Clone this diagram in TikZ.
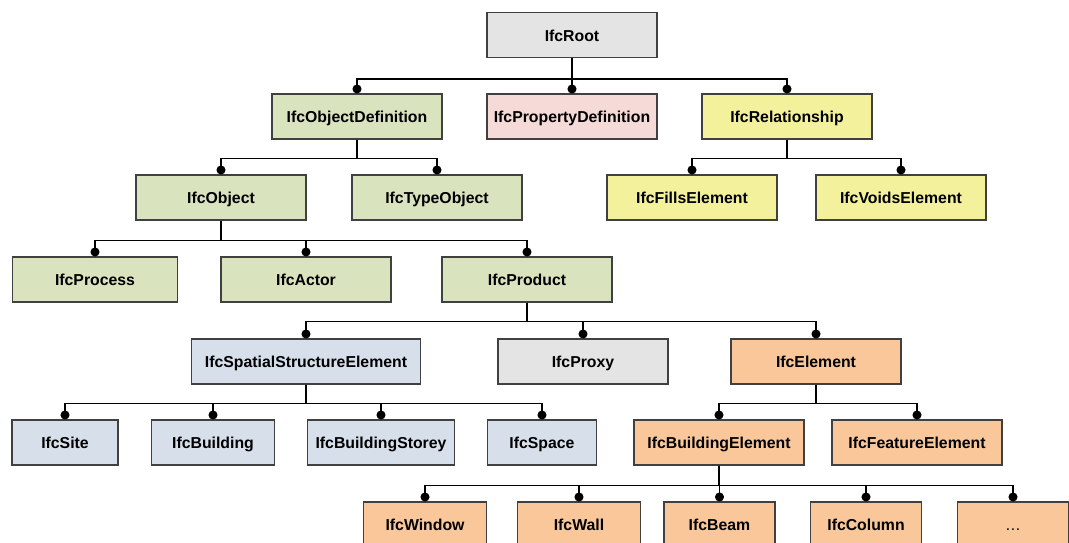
\documentclass[tikz,border=0pt]{standalone}
\usepackage{fontspec}
\setmainfont{Liberation Sans}
\usetikzlibrary{arrows.meta}
\definecolor{ifcgrey}{HTML}{E4E4E4}
\definecolor{ifcgreen}{HTML}{D9E4BF}
\definecolor{ifcpink}{HTML}{F5DAD7}
\definecolor{ifcyellow}{HTML}{F4F19D}
\definecolor{ifcblue}{HTML}{D7DFEB}
\definecolor{ifcorange}{HTML}{F9C79A}
\tikzset{
  ifc node/.style={draw=black!75,line width=0.6pt,minimum height=9mm,
    minimum width=34mm,inner sep=2pt,text height=8.8pt,text depth=1.9pt,
    font=\fontsize{9}{11}\selectfont\bfseries},
  grey node/.style={ifc node,fill=ifcgrey},
  green node/.style={ifc node,fill=ifcgreen},
  pink node/.style={ifc node,fill=ifcpink},
  yellow node/.style={ifc node,fill=ifcyellow},
  blue node/.style={ifc node,fill=ifcblue},
  orange node/.style={ifc node,fill=ifcorange},
  tree link/.style={-{Circle[length=1.8mm]},line width=0.7pt},
}

\begin{document}
\begin{tikzpicture}[x=0.02cm,y=-0.02cm]
  \useasboundingbox (0,0) rectangle (1069,542);

  % Root and its three direct subtypes.
  \node[grey node] (root) at (572,35) {IfcRoot};
  \node[green node] (objdef) at (357,116.5) {IfcObjectDefinition};
  \node[pink node] (propdef) at (572,116.5) {IfcPropertyDefinition};
  \node[yellow node] (rel) at (787,116.5) {IfcRelationship};

  \node[green node] (object) at (221,197.5) {IfcObject};
  \node[green node] (typeobj) at (437,197.5) {IfcTypeObject};
  \node[yellow node] (fills) at (692,197.5) {IfcFillsElement};
  \node[yellow node] (voids) at (901,197.5) {IfcVoidsElement};

  \node[green node,minimum width=33mm] (process) at (95,279.5) {IfcProcess};
  \node[green node] (actor) at (306,279.5) {IfcActor};
  \node[green node] (product) at (527,279.5) {IfcProduct};

  \node[blue node,minimum width=45.8mm] (spatial) at (306,361.5)
    {IfcSpatialStructureElement};
  \node[grey node] (proxy) at (583,361.5) {IfcProxy};
  \node[orange node] (element) at (816,361.5) {IfcElement};

  % Spatial structure on the left, building elements on the right.
  \node[blue node,minimum width=21.2mm] (site) at (65,442.5) {IfcSite};
  \node[blue node,minimum width=24.6mm] (building) at (213,442.5)
    {IfcBuilding};
  \node[blue node,minimum width=29.4mm] (storey) at (381,442.5)
    {IfcBuildingStorey};
  \node[blue node,minimum width=21.8mm] (space) at (542,442.5) {IfcSpace};
  \node[orange node] (bldgelem) at (719,442.5) {IfcBuildingElement};
  \node[orange node] (feature) at (917,442.5) {IfcFeatureElement};

  \node[orange node,minimum width=24.6mm] (window) at (425,524.5)
    {IfcWindow};
  \node[orange node,minimum width=24.6mm] (wall) at (579,524.5) {IfcWall};
  \node[orange node,minimum width=22.2mm] (beam) at (719.5,524.5) {IfcBeam};
  \node[orange node,minimum width=22.2mm] (column) at (866,524.5)
    {IfcColumn};
  \node[orange node,minimum width=22.2mm] (more) at (1013,524.5)
    {\mdseries\dots};

  % Elbow links: down from the parent, across the bus, down to a dot.
  \foreach \c in {objdef,propdef,rel}
    \draw[tree link] (root.south) -- ++(0,-4.2mm) -| (\c.north);
  \foreach \c in {object,typeobj}
    \draw[tree link] (objdef.south) -- ++(0,-3.8mm) -| (\c.north);
  \foreach \c in {fills,voids}
    \draw[tree link] (rel.south) -- ++(0,-3.8mm) -| (\c.north);
  \foreach \c in {process,actor,product}
    \draw[tree link] (object.south) -- ++(0,-4mm) -| (\c.north);
  \foreach \c in {spatial,proxy,element}
    \draw[tree link] (product.south) -- ++(0,-3.8mm) -| (\c.north);
  \foreach \c in {site,building,storey,space}
    \draw[tree link] (spatial.south) -- ++(0,-3.8mm) -| (\c.north);
  \foreach \c in {bldgelem,feature}
    \draw[tree link] (element.south) -- ++(0,-3.8mm) -| (\c.north);
  \foreach \c in {window,wall,beam,column,more}
    \draw[tree link] (bldgelem.south) -- ++(0,-4mm) -| (\c.north);
\end{tikzpicture}
\end{document}
